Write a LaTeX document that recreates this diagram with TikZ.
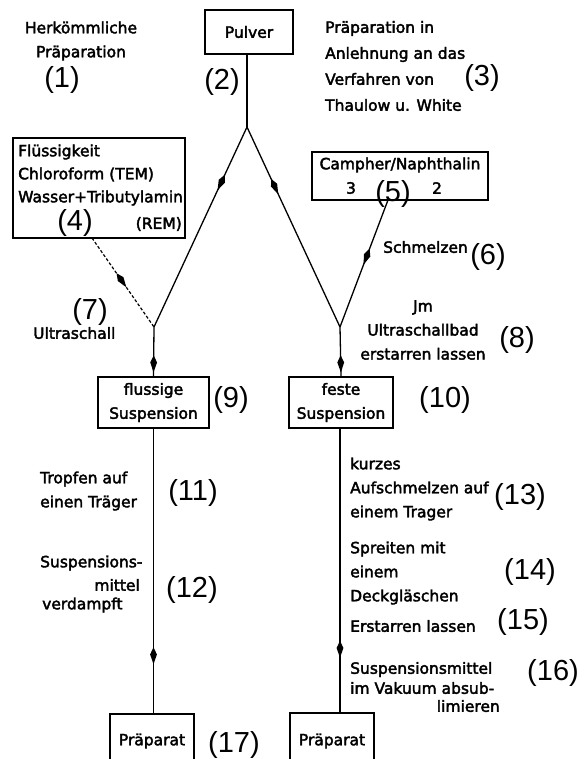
\documentclass[tikz,border=0pt]{standalone}
\usepackage{fontspec}
\setmainfont{DejaVu Sans}
\newfontfamily\lblfont[FakeBold=2.5]{DejaVu Sans}
\newfontfamily\numfont{Liberation Sans}
\usetikzlibrary{arrows.meta,decorations.markings}
\tikzset{
  lbl/.style={font=\lblfont\fontsize{15.5}{24}\selectfont, inner sep=0pt},
  num/.style={font=\numfont\fontsize{29}{30}\selectfont, inner sep=0pt},
  frame/.style={draw, line width=1.5pt, inner sep=0pt},
  flow/.style={line width=1.3pt},
  dashflow/.style={line width=1.2pt, dash pattern=on 3pt off 2pt},
  midarrow/.style={postaction={decorate}, decoration={markings, mark=at position #1 with {\fill[solid] (-9pt,0pt) -- (-2pt,3.4pt) -- (8pt,0pt) -- (-2pt,-3.4pt) -- cycle;}}}
}
\begin{document}
\begin{tikzpicture}[x=1pt,y=-1pt]
\useasboundingbox (0,0) rectangle (583,759);
\clip (0,0) rectangle (583,759);

% boxes
\node[frame, minimum width=88pt, minimum height=44pt, lbl] (pulver) at (249,32) {Pulver};
\node[frame, minimum width=172pt, minimum height=100pt] (box4) at (99,188) {};
\node[frame, minimum width=176pt, minimum height=48pt] (box5) at (400,176) {};
\node[frame, minimum width=111pt, minimum height=51pt, lbl, align=center] (box9) at (153.5,402.5) {flussige\\Suspension};
\node[frame, minimum width=104pt, minimum height=51pt, lbl, align=center] (box10) at (341,402.5) {feste\\Suspension};
\node[frame, minimum width=84pt, minimum height=90pt] (box17) at (152,759) {};
\node[frame, minimum width=84pt, minimum height=90pt] (boxR) at (332,758) {};

% texts in boxes
\node[lbl, anchor=west, align=left, font=\lblfont\fontsize{15.5}{23}\selectfont] (t4) at (18,175) {Flüssigkeit\\Chloroform (TEM)\\Wasser+Tributylamin};
\node[lbl, anchor=east] (t4b) at (182,224) {(REM)};
\node[num] (n4) at (75,223) {(4)};
\node[lbl] (t5) at (400,165) {Campher/Naphthalin};
\node[lbl] (t5a) at (351,188) {3};
\node[lbl] (t5b) at (437,188) {2};
\node[num] (n5) at (393,194) {(5)};
\node[lbl] (t17) at (152,741) {Präparat};
\node[lbl] (tR) at (332,741) {Präparat};

% free texts
\node[lbl, align=center] (t1) at (81,41) {Herkömmliche\\Präparation};
\node[num] (n1) at (62,80) {(1)};
\node[num] (n2) at (222,82) {(2)};
\node[lbl, anchor=west, align=left, font=\lblfont\fontsize{15.5}{26}\selectfont] (t3) at (325,66) {Präparation in\\Anlehnung an das\\Verfahren von\\Thaulow u. White};
\node[num] (n3) at (482,78) {(3)};
\node[lbl, anchor=west] (t6) at (383,247) {Schmelzen};
\node[num] (n6) at (488,257) {(6)};
\node[lbl, anchor=west] (t7) at (33,333) {Ultraschall};
\node[num] (n7) at (90,312) {(7)};
\node[lbl, align=center] (t8) at (423,330) {Jm\\Ultraschallbad\\erstarren lassen};
\node[num] (n8) at (517,340) {(8)};
\node[num] (n9) at (231,400) {(9)};
\node[num] (n10) at (445,400) {(10)};
\node[lbl, anchor=west, align=left] (t11) at (40,491) {Tropfen auf\\einen Träger};
\node[num] (n11) at (193,493) {(11)};
\node[lbl, anchor=west] (t12a) at (40,563) {Suspensions-};
\node[lbl, anchor=east] (t12b) at (140,585) {mittel};
\node[lbl, anchor=west] (t12c) at (42,605) {verdampft};
\node[num] (n12) at (192,590) {(12)};
\node[lbl, anchor=west, align=left] (t13) at (350,489) {kurzes\\Aufschmelzen auf\\einem Trager};
\node[num] (n13) at (520,497) {(13)};
\node[lbl, anchor=west, align=left] (t14) at (350,573) {Spreiten mit\\einem\\Deckgläschen};
\node[num] (n14) at (530,572) {(14)};
\node[lbl, anchor=west] (t15) at (350,626) {Erstarren lassen};
\node[num] (n15) at (523,622) {(15)};
\node[lbl, anchor=west, align=left, font=\lblfont\fontsize{15.5}{20}\selectfont] (t16) at (350,678) {Suspensionsmittel\\im Vakuum absub-};
\node[lbl, anchor=east] (t16b) at (500,706) {limieren};
\node[num] (n16) at (553,673) {(16)};
\node[num] (n17) at (234,745) {(17)};

% junction points
\coordinate (split) at (247,127);
\coordinate (v7) at (154,327);
\coordinate (v8) at (340,327);
\coordinate (d4) at (92,238);
\coordinate (d5) at (388,200);

% connectors
\draw[flow] (pulver.south -| split) -- (split);
\draw[flow, midarrow=0.28] (split) -- (v7);
\draw[flow, midarrow=0.30] (split) -- (v8);
\draw[dashflow, midarrow=0.48] (d4) -- (v7);
\draw[flow, midarrow=0.45] (d5) -- (v8);
\draw[flow, midarrow=0.76] (v7) -- (box9.north);
\draw[flow, midarrow=0.76] (v8) -- (box10.north);
\draw[flow, midarrow=0.80] (box9.south) -- (box9.south |- box17.north);
\draw[flow, midarrow=0.78] (box10.south -| v8) -- (v8 |- boxR.north);
\end{tikzpicture}
\end{document}
